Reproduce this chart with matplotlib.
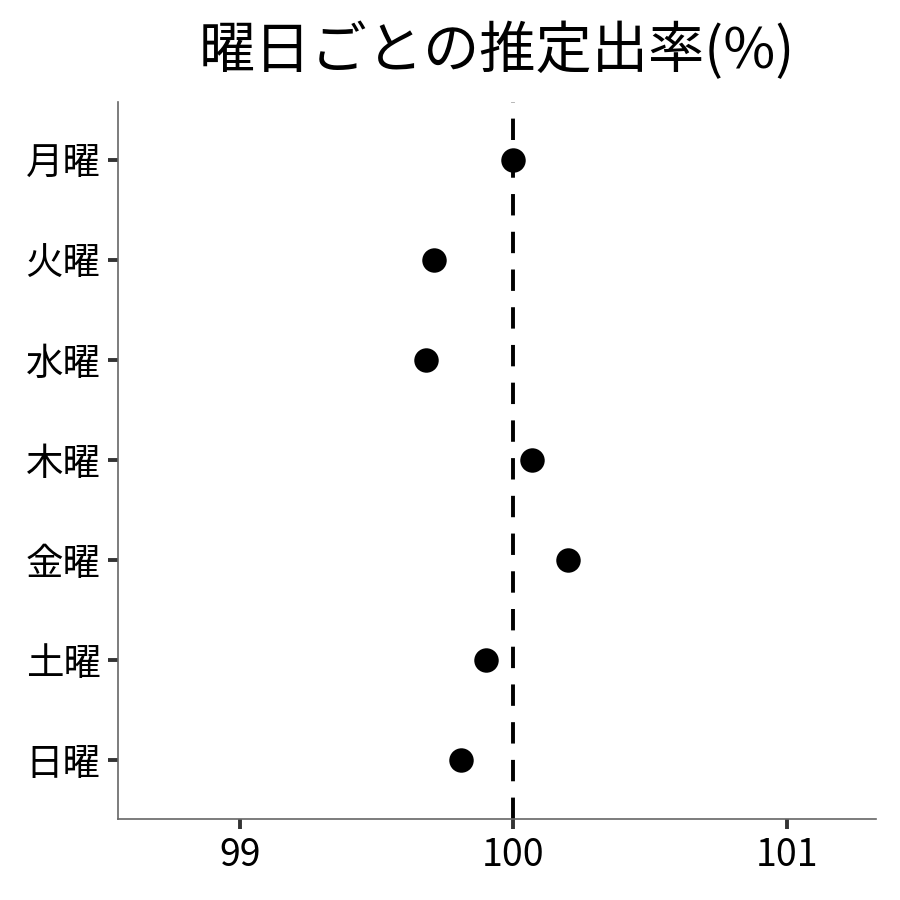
import numpy as np
import matplotlib
matplotlib.use("Agg")
import matplotlib.pyplot as plt

plt.rcParams['font.family'] = ['Noto Sans CJK JP', 'DejaVu Sans']

# 曜日ごとの推定出率
days = ["月曜", "火曜", "水曜", "木曜", "金曜", "土曜", "日曜"]
rates = [100.00, 99.71, 99.68, 100.07, 100.20, 99.90, 99.81]
ref_value = 100
xticks = [99, 100, 101]

fig = plt.figure(figsize=(9, 9), dpi=100)
ax = fig.add_axes([0.131, 0.09, 0.842, 0.797])

y = np.arange(len(days))
ax.axvline(ref_value, color="black", lw=2.8, dashes=(5.5, 4.2), zorder=1)
ax.scatter(rates, y, s=310, color="black", zorder=3, linewidths=0)

ax.set_yticks(y)
ax.set_yticklabels(days)
ax.set_ylim(len(days) - 1 + 0.59, -0.58)
ax.set_xticks(xticks)
ax.set_xticklabels([str(v) for v in xticks])
ax.set_xlim(98.554, 101.325)

for side in ["top", "right"]:
    ax.spines[side].set_visible(False)
for side in ["left", "bottom"]:
    ax.spines[side].set_color("#666666")
    ax.spines[side].set_linewidth(1.2)

ax.tick_params(axis="both", length=7.5, width=2.8, color="#333333",
               labelsize=27, labelcolor="black", pad=5)

ax.set_title("曜日ごとの推定出率(%)", fontsize=40.5, pad=24)

fig.savefig("out.png", dpi=100)
